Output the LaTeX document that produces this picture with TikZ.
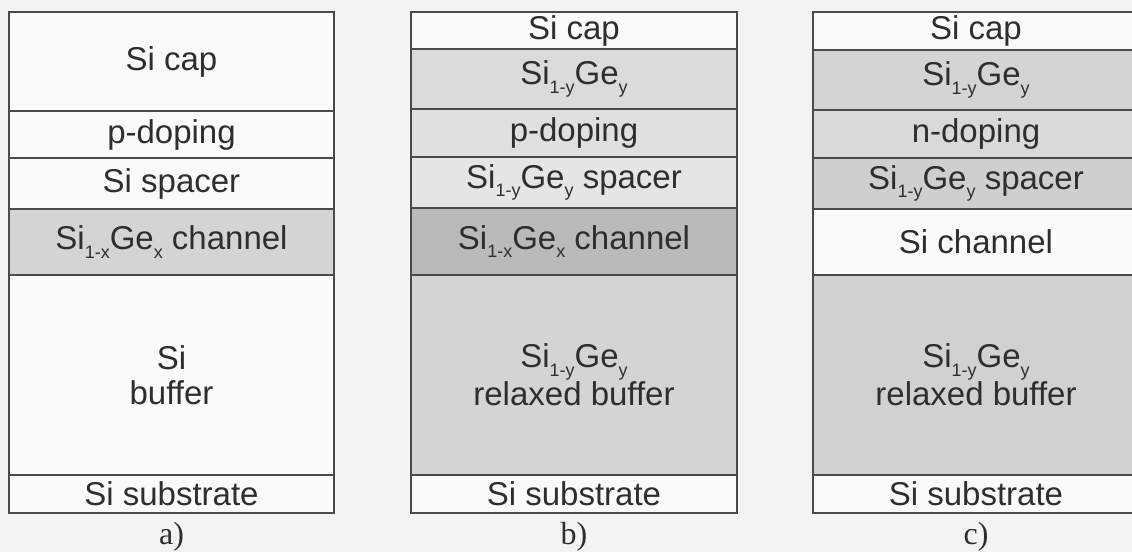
\documentclass[tikz,border=0pt]{standalone}
\usepackage{fontspec}
\setmainfont{Liberation Sans}
\newfontfamily\capfont{Liberation Serif}
\definecolor{linec}{HTML}{4A4A4A}
\definecolor{textc}{HTML}{2E2E2E}
\definecolor{bgc}{HTML}{F3F3F3}
\definecolor{whitel}{HTML}{FAFAFA}
% subscript in the layer names
\newcommand{\lsub}[1]{\raisebox{-0.25em}{\fontsize{18}{18}\selectfont #1}}
\newcommand{\SiGeY}{Si\lsub{1-y}Ge\lsub{y}}
\newcommand{\SiGeX}{Si\lsub{1-x}Ge\lsub{x}}
\tikzset{
  layer/.style={draw=linec, line width=1.3pt, inner sep=0pt, text=textc,
    font=\fontsize{33}{38}\selectfont, align=center, fill=whitel},
  wa/.style={layer, minimum width=325pt},
  wb/.style={layer, minimum width=326pt},
  sublabel/.style={text=textc, font=\capfont\fontsize{32}{32}\selectfont, inner sep=0pt}
}
\begin{document}
\begin{tikzpicture}[x=1pt, y=-1pt]
  \useasboundingbox (0,0) rectangle (1132,552);
  \fill[bgc] (0,0) rectangle (1132,552);
  \clip (0,0) rectangle (1132,552);

  % (a) Si cap / p-doping / Si spacer / SiGe channel on Si buffer
  \node[wa, minimum height=200pt] (abuf) at (171.5,375) {Si\\[-3pt]buffer};
  \node[wa, minimum height=38pt] (asub) at (171.5,494) {Si substrate};
  \node[wa, minimum height=66pt, fill=black!17] (ach) at (171.5,242) {\SiGeX{} channel};
  \node[wa, minimum height=51pt] (asp) at (171.5,183.5) {Si spacer};
  \node[wa, minimum height=47pt] (adop) at (171.5,134.5) {p-doping};
  \node[wa, minimum height=99pt] (acap) at (171.5,61.5) {Si cap};
  \node[sublabel] (la) at (171.5,537) {a)};

  % (b) SiGe channel on relaxed SiGe buffer
  \node[wb, minimum height=200pt, fill=black!17] (bbuf) at (574,375) {\SiGeY\\relaxed buffer};
  \node[wb, minimum height=38pt] (bsub) at (574,494) {Si substrate};
  \node[wb, minimum height=67pt, fill=black!27] (bch) at (574,241.5) {\SiGeX{} channel};
  \node[wb, minimum height=51pt, fill=black!10] (bsp) at (574,182.5) {\SiGeY{} spacer};
  \node[wb, minimum height=48pt, fill=black!12] (bdop) at (574,133) {p-doping};
  \node[wb, minimum height=60pt, fill=black!14] (bsg) at (574,79) {\SiGeY};
  \node[wb, minimum height=37pt] (bcap) at (574,30.5) {Si cap};
  \node[sublabel] (lb) at (574,537) {b)};

  % (c) Si channel on relaxed SiGe buffer, n-doped supply layer
  \node[wb, minimum height=200pt, fill=black!18] (cbuf) at (976,375) {\SiGeY\\relaxed buffer};
  \node[wb, minimum height=38pt] (csub) at (976,494) {Si substrate};
  \node[wb, minimum height=66pt] (cch) at (976,242) {Si channel};
  \node[wb, minimum height=51pt, fill=black!19] (csp) at (976,183.5) {\SiGeY{} spacer};
  \node[wb, minimum height=48pt, fill=black!15] (cdop) at (976,134) {n-doping};
  \node[wb, minimum height=60pt, fill=black!17] (csg) at (976,80) {\SiGeY};
  \node[wb, minimum height=38pt] (ccap) at (976,31) {Si cap};
  \node[sublabel] (lc) at (976,537) {c)};
\end{tikzpicture}
\end{document}
